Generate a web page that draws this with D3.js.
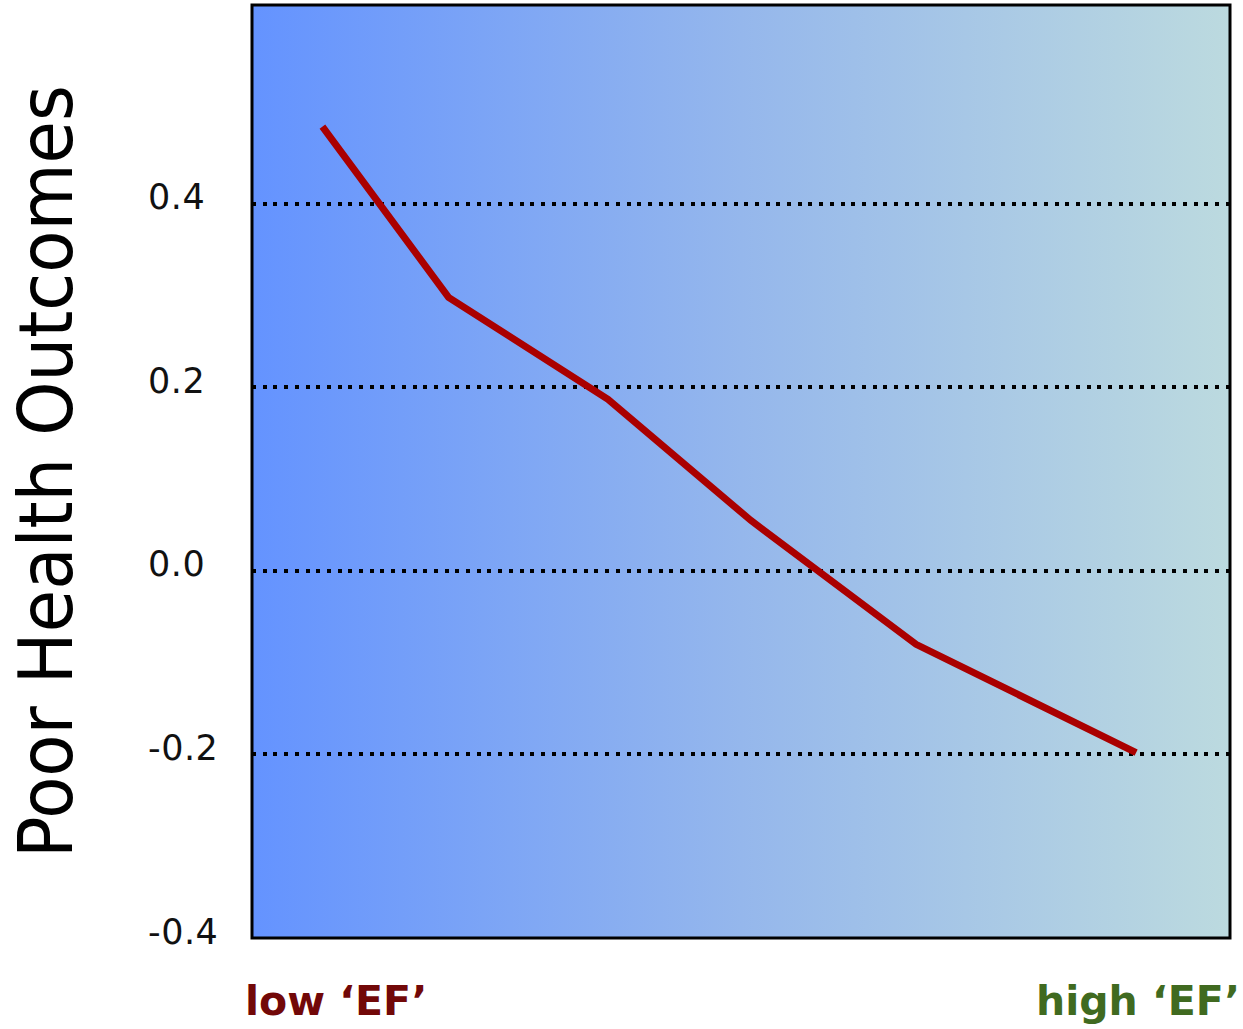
<!DOCTYPE html>
<html>
<head>
<meta charset="utf-8">
<script src="https://cdn.jsdelivr.net/npm/d3@7"></script>
<style>
  html, body { margin: 0; padding: 0; background: #ffffff; }
  svg { display: block; }
</style>
</head>
<body>
<svg id="chart" width="1243" height="1029"></svg>
<script>
// Executive function level (0 = lowest, 1 = highest) and the matching
// standardized poor-health-outcome score.
const efLevels = [0.072, 0.201, 0.364, 0.510, 0.679, 0.904];
const healthScores = [0.484, 0.298, 0.187, 0.055, -0.080, -0.198];

const yTicks = [0.4, 0.2, 0.0, -0.2, -0.4];
const yTickLabels = ["0.4", "0.2", "0.0", "-0.2", "-0.4"];
const gridValues = [0.4, 0.2, 0.0, -0.2];

const yTitle = "Poor Health Outcomes";
const xEndLabels = ["low \u2018EF\u2019", "high \u2018EF\u2019"];

const svg = d3.select("#chart");

const plot = { left: 252, top: 5, right: 1230, bottom: 938 };
const plotW = plot.right - plot.left;
const plotH = plot.bottom - plot.top;

const x = d3.scaleLinear().domain([0, 1]).range([plot.left, plot.right]);
const y = d3.scaleLinear().domain([-0.4, 0.6165]).range([plot.bottom, plot.top]);

// Horizontal background gradient
const defs = svg.append("defs");
const grad = defs.append("linearGradient")
  .attr("id", "bgGrad")
  .attr("x1", "0%").attr("x2", "100%")
  .attr("y1", "0%").attr("y2", "0%");
grad.append("stop").attr("offset", "0%").attr("stop-color", "#6493ff");
grad.append("stop").attr("offset", "50%").attr("stop-color", "#95b7ec");
grad.append("stop").attr("offset", "100%").attr("stop-color", "#bcdadf");

svg.append("rect")
  .attr("x", plot.left).attr("y", plot.top)
  .attr("width", plotW).attr("height", plotH)
  .attr("fill", "url(#bgGrad)");

// Dotted gridlines, snapped to whole pixels so the dots stay crisp
const grid = svg.append("g")
  .attr("transform", `translate(${plot.left},0)`)
  .call(d3.axisLeft(y).tickValues(gridValues).tickSize(-plotW).tickFormat("").offset(0));
grid.select(".domain").remove();
grid.selectAll(".tick")
  .attr("transform", d => `translate(0,${Math.round(y(d))})`);
grid.selectAll(".tick line")
  .attr("stroke", "#000")
  .attr("stroke-width", 4)
  .attr("stroke-dasharray", "4 6.7")
  .attr("shape-rendering", "crispEdges");

// Tick labels
const yAxis = svg.append("g")
  .attr("transform", `translate(${plot.left},0)`)
  .call(d3.axisLeft(y).tickValues(yTicks).tickSize(0)
    .tickFormat((d, i) => yTickLabels[i]));
yAxis.select(".domain").remove();
yAxis.selectAll(".tick text")
  .attr("x", 148 - plot.left)
  .attr("dy", 5)
  .attr("text-anchor", "start")
  .attr("font-family", "'DejaVu Sans', sans-serif")
  .attr("font-size", 35)
  .attr("letter-spacing", 0.5)
  .attr("fill", "#111");

// Data line
const line = d3.line()
  .x((d, i) => x(efLevels[i]))
  .y(d => y(d));
svg.append("path")
  .datum(healthScores)
  .attr("d", line)
  .attr("fill", "none")
  .attr("stroke", "#aa0000")
  .attr("stroke-width", 7)
  .attr("stroke-linejoin", "miter");

// Plot frame
svg.append("rect")
  .attr("x", plot.left).attr("y", plot.top)
  .attr("width", plotW).attr("height", plotH)
  .attr("fill", "none")
  .attr("stroke", "#000")
  .attr("stroke-width", 3);

// Y axis title
svg.append("text")
  .attr("transform", `translate(72,${(85 + 858) / 2}) rotate(-90)`)
  .attr("text-anchor", "middle")
  .attr("font-family", "'DejaVu Sans', sans-serif")
  .attr("font-size", 74)
  .attr("textLength", 773)
  .attr("lengthAdjust", "spacingAndGlyphs")
  .attr("fill", "#000")
  .text(yTitle);

// X end labels
svg.append("text")
  .attr("x", 245).attr("y", 1015)
  .attr("font-family", "'DejaVu Sans', sans-serif")
  .attr("font-weight", "bold")
  .attr("font-size", 41)
  .attr("fill", "#720808")
  .text(xEndLabels[0]);

svg.append("text")
  .attr("x", 1240).attr("y", 1015)
  .attr("text-anchor", "end")
  .attr("font-family", "'DejaVu Sans', sans-serif")
  .attr("font-weight", "bold")
  .attr("font-size", 41)
  .attr("fill", "#406a20")
  .text(xEndLabels[1]);
</script>
</body>
</html>
